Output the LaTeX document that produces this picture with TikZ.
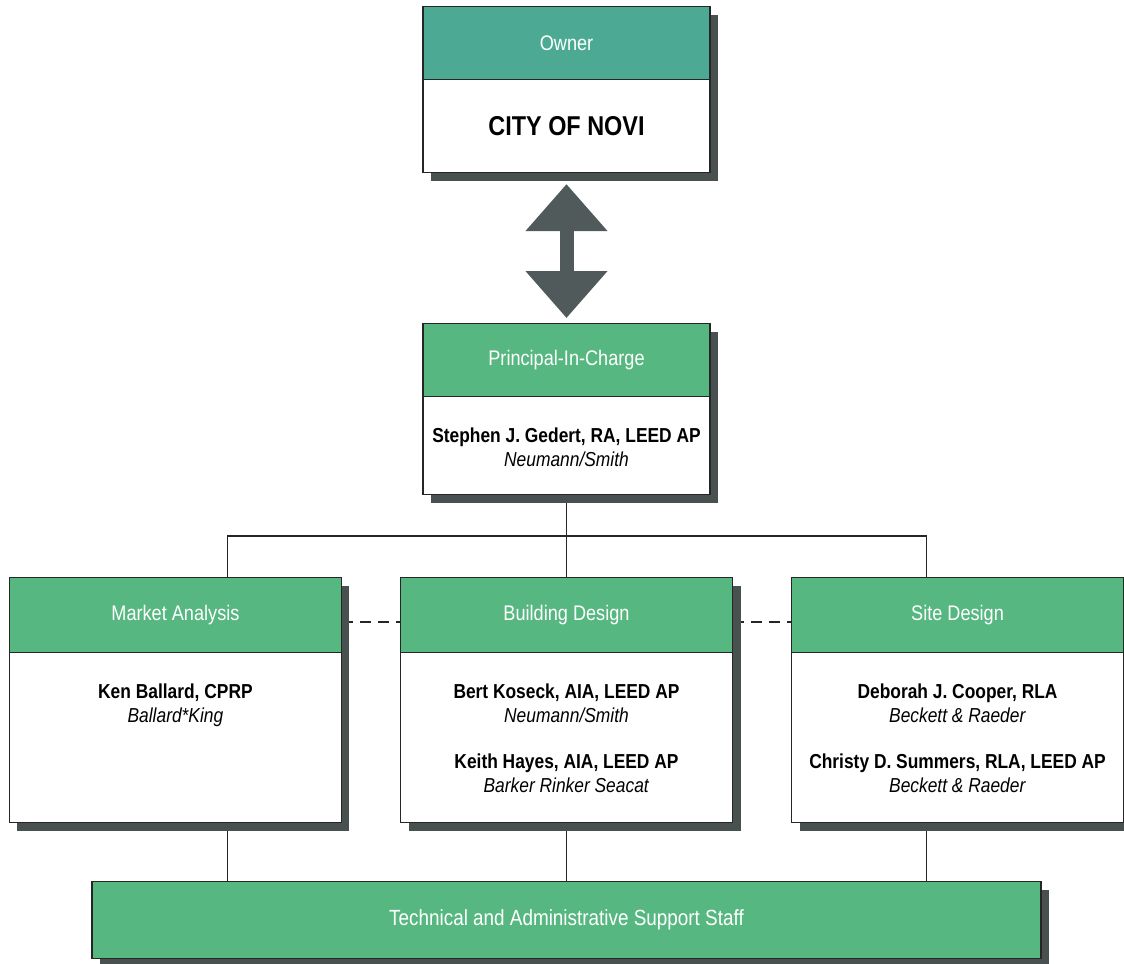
\documentclass[tikz,border=0pt]{standalone}
\usepackage{fontspec}
\setmainfont{Liberation Sans}[FakeStretch=0.86]
\usetikzlibrary{positioning,calc,shadows,arrows.meta}
\pgfdeclarelayer{background}
\pgfsetlayers{background,main}
\definecolor{hdrgreen}{RGB}{86,184,128}
\definecolor{ownteal}{RGB}{76,170,148}
\definecolor{shadegray}{RGB}{72,80,80}
\definecolor{arrowgray}{RGB}{80,90,90}

\begin{document}
\begin{tikzpicture}[unit/.style={rectangle, draw=black!85, line width=0.6pt, fill=white, inner sep=0pt,
        drop shadow={shadow xshift=0.16cm, shadow yshift=-0.16cm, fill=shadegray, opacity=1}},
    hdr/.style={rectangle, draw=black!85, line width=0.6pt, fill=hdrgreen, text=white, inner sep=0pt,
        minimum height=1.5cm, font=\fontsize{12}{14}\selectfont},
    names/.style={align=center, inner sep=0pt, font=\fontsize{11.5}{13.7}\selectfont},
    link/.style={draw=black!85, line width=0.8pt},
    dashlink/.style={draw=black!85, line width=1.3pt, dash pattern=on 0.22cm off 0.14cm}]
            \useasboundingbox (0,0) rectangle (22.48,-19.28);

            \node (own) [unit, minimum width=5.74cm, minimum height=3.32cm, anchor=north] at (11.33,-0.12) {};
            \node (ownh) [below=0cm of own.north, hdr, fill=ownteal, minimum width=5.74cm, minimum height=1.46cm] {Owner};
            \node (ownname) [font=\fontsize{15.5}{18}\selectfont\bfseries] at ($(ownh.south)!0.5!(own.south)$) {CITY OF NOVI};

            \node (prin) [below=3cm of own, unit, minimum width=5.74cm, minimum height=3.42cm] {};
            \node (prinh) [below=0cm of prin.north, hdr, minimum width=5.74cm, minimum height=1.46cm] {Principal-In-Charge};
            \node (prinname) [below=0.6cm of prinh, names] {\textbf{Stephen J. Gedert, RA, LEED AP}\\\textit{Neumann/Smith}};

            \draw [arrowgray, line width=0.28cm, {Triangle[width=1.58cm,length=0.94cm]}-{Triangle[width=1.58cm,length=0.94cm]},
                shorten <=0.22cm, shorten >=0.1cm] (own.south) -- (prin.north);

            \node (bld) [below=1.64cm of prin, unit, minimum width=6.64cm, minimum height=4.9cm] {};
            \node (bldh) [below=0cm of bld.north, hdr, minimum width=6.64cm] {Building Design};
            \node (bldname) [below=0.6cm of bldh, names] {\textbf{Bert Koseck, AIA, LEED AP}\\\textit{Neumann/Smith}\\[0.44cm]
                \textbf{Keith Hayes, AIA, LEED AP}\\\textit{Barker Rinker Seacat}};

            \node (mkt) [left=1.16cm of bld, unit, minimum width=6.64cm, minimum height=4.9cm] {};
            \node (mkth) [below=0cm of mkt.north, hdr, minimum width=6.64cm] {Market Analysis};
            \node (mktname) [below=0.6cm of mkth, names] {\textbf{Ken Ballard, CPRP}\\\textit{Ballard*King}};

            \node (site) [right=1.16cm of bld, unit, minimum width=6.64cm, minimum height=4.9cm] {};
            \node (siteh) [below=0cm of site.north, hdr, minimum width=6.64cm] {Site Design};
            \node (sitename) [below=0.6cm of siteh, names] {\textbf{Deborah J. Cooper, RLA}\\\textit{Beckett \& Raeder}\\[0.44cm]
                \textbf{Christy D. Summers, RLA, LEED AP}\\\textit{Beckett \& Raeder}};

            \node (staff) [below=1.16cm of bld, unit, fill=hdrgreen, text=white, minimum width=18.98cm, minimum height=1.54cm,
                font=\fontsize{12.5}{14}\selectfont] {Technical and Administrative Support Staff};

            % connectors go under the boxes and their shadows
            \begin{pgfonlayer}{background}
                \coordinate (jn) at ($(prin.south)+(0,-0.82)$);
                \coordinate (mkttop) at ($(mkt.north)+(1.04,0)$);
                \coordinate (sitetop) at ($(site.north)+(-0.62,0)$);

                \draw [link] (prin.south) -- (jn);
                \draw [link] (jn) -- (jn |- bld.north);
                \draw [link] (mkttop) -- (mkttop |- jn) -- (sitetop |- jn) -- (sitetop);

                \draw [link] (mkttop |- mkt.south) -- (mkttop |- staff.north);
                \draw [link] (jn |- bld.south) -- (jn |- staff.north);
                \draw [link] (sitetop |- site.south) -- (sitetop |- staff.north);

                \draw [dashlink] ([yshift=-0.13cm]mkth.east) -- ([yshift=-0.13cm]bldh.west);
                \draw [dashlink] ([yshift=-0.13cm]bldh.east) -- ([yshift=-0.13cm]siteh.west);
            \end{pgfonlayer}
        \end{tikzpicture}
\end{document}
